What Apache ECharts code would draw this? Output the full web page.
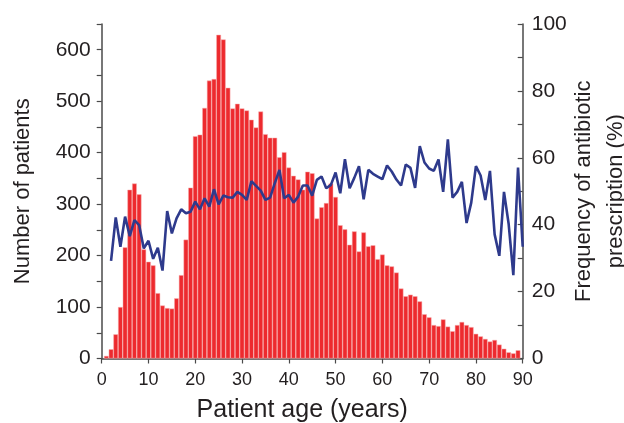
<!DOCTYPE html>
<html>
<head>
<meta charset="utf-8">
<script src="https://cdn.jsdelivr.net/npm/echarts@6/dist/echarts.min.js"></script>
<style>
html,body{margin:0;padding:0;background:#fff;}
#c{width:624px;height:423px;}
</style>
</head>
<body>
<div id="c"></div>
<script>
// Patient age (years) for each bar
const barAges = [1,2,3,4,5,6,7,8,9,10,11,12,13,14,15,16,17,18,19,20,21,22,23,24,25,26,27,28,29,30,
  31,32,33,34,35,36,37,38,39,40,41,42,43,44,45,46,47,48,49,50,51,52,53,54,55,56,57,58,59,60,
  61,62,63,64,65,66,67,68,69,70,71,72,73,74,75,76,77,78,79,80,81,82,83,84,85,86,87,88,89];
// Number of patients per age
const patients = [5,18,47,100,216,328,340,319,212,188,181,127,103,98,97,117,162,231,332,432,
  435,487,540,543,629,620,526,486,495,486,482,464,449,480,436,429,429,391,401,371,
  355,348,328,363,360,272,294,302,340,314,259,251,221,247,208,245,218,220,193,202,
  181,179,167,136,121,124,121,111,86,80,65,63,76,62,53,65,71,65,61,48,
  43,38,33,36,27,19,12,10,16];
// Ages for the antibiotic-prescription line
const lineAges = [2,3,4,5,6,7,8,9,10,11,12,13,14,15,16,17,18,19,20,21,22,23,24,25,26,27,28,29,30,
  31,32,33,34,35,36,37,38,39,40,41,42,43,44,45,46,47,48,49,50,51,52,53,54,55,56,57,58,59,60,
  61,62,63,64,65,66,67,68,69,70,71,72,73,74,75,76,77,78,79,80,81,82,83,84,85,86,87,88,89,90];
// Frequency of antibiotic prescription (%)
const prescriptionPct = [29.2,42.2,33.4,42.4,36.6,41.4,39.9,32.9,35.2,29.8,33.1,26.3,44.1,37.4,41.9,44.6,43.4,43.9,46.9,
  44.6,47.9,45.4,50.6,46.1,48.7,48.2,48.1,49.8,48.9,47.4,53.0,51.6,50.2,47.4,48.1,52.4,56.4,47.9,48.9,
  46.6,48.4,51.7,51.7,48.7,53.4,54.4,50.9,51.9,55.6,49.4,59.6,50.9,54.0,57.5,47.6,56.4,55.2,54.4,53.6,
  57.7,55.9,53.5,51.7,58.0,57.0,51.0,63.5,58.6,56.8,56.1,59.5,49.8,65.5,48.1,49.8,52.8,40.5,46.6,57.5,
  54.7,47.4,56.1,37.1,30.7,49.8,40.2,24.9,57.1,33.4];

const FONT = 'Liberation Sans, Arial, sans-serif';
const TXT = '#231f20';
const AX = '#4a4a4a';

const chart = echarts.init(document.getElementById('c'), null, {renderer: 'canvas'});
chart.setOption({
  animation: false,
  backgroundColor: '#fff',
  grid: {left: 101.7, right: 101.3, top: 24, bottom: 64.5, containLabel: false, outerBoundsMode: 'none'},
  xAxis: {
    type: 'value', min: 0, max: 90, interval: 10,
    name: 'Patient age (years)', nameLocation: 'middle', nameGap: 39, nameMoveOverlap: false,
    nameTextStyle: {fontFamily: FONT, fontSize: 25, color: TXT, padding: [0, 20, 0, 0]},
    axisLine: {show: true, lineStyle: {color: AX, width: 1.5}},
    axisTick: {show: true, inside: false, length: 5, lineStyle: {color: AX, width: 1.2}},
    axisLabel: {fontFamily: FONT, fontSize: 18, color: TXT, margin: 13},
    splitLine: {show: false}
  },
  yAxis: [{
    type: 'value', min: 0, max: 650, interval: 50, position: 'left',
    name: 'Number of patients', nameLocation: 'middle', nameGap: 68, nameRotate: 90, nameMoveOverlap: false,
    nameTextStyle: {fontFamily: FONT, fontSize: 22, color: TXT},
    axisLine: {show: true, lineStyle: {color: AX, width: 1.5}},
    axisTick: {show: true, inside: false, length: 5, lineStyle: {color: AX, width: 1.2}},
    axisLabel: {fontFamily: FONT, fontSize: 21, color: TXT, margin: 11,
      formatter: v => (v % 100 === 0 ? String(v) : '')},
    splitLine: {show: false}
  }, {
    type: 'value', min: 0, max: 100, interval: 10, position: 'right',
    name: 'Frequency of antibiotic\nprescription (%)', nameLocation: 'middle', nameGap: 45, nameRotate: 90,
    nameMoveOverlap: false,
    nameTextStyle: {fontFamily: FONT, fontSize: 22, color: TXT, lineHeight: 32, align: 'center'},
    axisLine: {show: true, lineStyle: {color: AX, width: 1.5}},
    axisTick: {show: true, inside: true, length: 5, lineStyle: {color: AX, width: 1.2}},
    axisLabel: {fontFamily: FONT, fontSize: 21, color: TXT, margin: 9,
      formatter: v => (v % 20 === 0 ? String(v) : '')},
    splitLine: {show: false}
  }],
  series: [{
    type: 'bar', yAxisIndex: 0,
    data: barAges.map((a, i) => [a, patients[i]]),
    barWidth: 4.68,
    itemStyle: {color: '#ed2a2e', borderColor: '#f6b0b0', borderWidth: 0.5},
    z: 2
  }, {
    type: 'line', yAxisIndex: 1,
    data: lineAges.map((a, i) => [a, prescriptionPct[i]]),
    showSymbol: false, symbol: 'none',
    lineStyle: {color: '#2e3a8c', width: 2.6},
    z: 3
  }]
});
</script>
</body>
</html>
